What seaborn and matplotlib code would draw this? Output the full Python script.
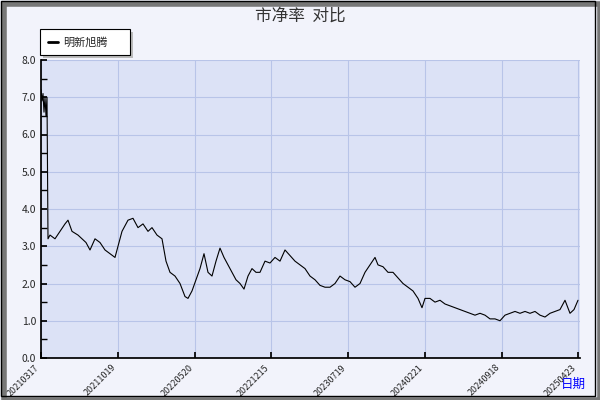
import matplotlib
matplotlib.use("Agg")
import matplotlib.pyplot as plt
import seaborn as sns
import pandas as pd
from matplotlib.patches import Rectangle

px = [41,42,43,44,45,46,47,48,50,55,60,65,68,72,78,82,86,90,95,100,105,110,115,118,122,128,133,138,143,148,152,157,162,166,170,175,180,185,188,192,196,200,204,208,212,216,220,224,228,232,236,240,244,248,252,256,260,265,270,275,280,285,290,295,300,305,310,315,320,325,330,335,340,345,350,355,360,365,370,375,378,383,388,393,398,403,408,413,418,422,425,430,435,440,445,450,455,460,465,470,475,480,485,490,495,500,505,510,515,520,525,530,535,540,545,550,555,560,565,570,574,578]
pb = [7.2,6.9,7.1,6.6,7.0,6.5,7.0,3.2,3.3,3.2,3.4,3.6,3.7,3.4,3.3,3.2,3.1,2.9,3.2,3.1,2.9,2.8,2.7,3.0,3.4,3.7,3.75,3.5,3.6,3.4,3.5,3.3,3.2,2.6,2.3,2.2,2.0,1.65,1.6,1.8,2.1,2.4,2.8,2.3,2.2,2.6,2.95,2.7,2.5,2.3,2.1,2.0,1.85,2.2,2.4,2.3,2.3,2.6,2.55,2.7,2.6,2.9,2.75,2.6,2.5,2.4,2.2,2.1,1.95,1.9,1.9,2.0,2.2,2.1,2.05,1.9,2.0,2.3,2.5,2.7,2.5,2.45,2.3,2.3,2.15,2.0,1.9,1.8,1.6,1.35,1.6,1.6,1.5,1.55,1.45,1.4,1.35,1.3,1.25,1.2,1.15,1.2,1.15,1.05,1.05,1.0,1.15,1.2,1.25,1.2,1.25,1.2,1.25,1.15,1.1,1.2,1.25,1.3,1.55,1.2,1.3,1.55]
tick_pos = [0,77,154,230,307,384,461,537]
tick_labels = ["20210317","20211019","20220520","20221215","20230719","20240221","20240918","20250423"]

df = pd.DataFrame({"x": [p - 41 for p in px], "pb": pb})

sns.set_theme(style="white")
plt.rcParams['font.family'] = ['Noto Sans CJK SC', 'DejaVu Sans']
fig = plt.figure(figsize=(6, 4), dpi=100, facecolor="#F2F3FB")
ax = fig.add_axes([41/600, 42/400, 539/600, 298/400])
ax.set_facecolor("#DCE2F6")
sns.lineplot(data=df, x="x", y="pb", ax=ax, color="black", lw=0.8, legend=False)
ax.set_xlim(0, 539)
ax.set_ylim(0, 8)
ax.set_xticks(tick_pos)
ax.set_xticklabels(tick_labels, rotation=45, ha="right", fontsize=6.5)
ax.set_yticks([i for i in range(9)])
ax.set_yticklabels([f"{i:.1f}" for i in range(9)], fontsize=7.5)
ax.set_yticks([i + 0.5 for i in range(8)], minor=True)
ax.tick_params(axis="both", which="both", direction="in", length=4, color="black", left=True, bottom=True)
ax.grid(True, color="#B8C4E8", lw=0.8)
for s in ["top", "right"]:
    ax.spines[s].set_visible(False)
for s in ["left", "bottom"]:
    ax.spines[s].set_color("black")
ax.set_xlabel(""); ax.set_ylabel("")
fig.text(0.5, 0.96, "市净率  对比", ha="center", va="center", fontsize=12, color="#333333")
fig.text(0.955, 0.03, "日期", ha="center", color="blue", fontsize=9)
# legend box
fig.patches.append(Rectangle((43/600, 1 - 58/400), 90/600, 26/400, transform=fig.transFigure, facecolor="#BBBBBB", edgecolor="none"))
fig.patches.append(Rectangle((40/600, 1 - 55/400), 90/600, 26/400, transform=fig.transFigure, facecolor="white", edgecolor="black", lw=0.8))
fig.lines.append(plt.Line2D([48/600, 58/600], [1 - 42/400]*2, transform=fig.transFigure, color="black", lw=2))
fig.text(63/600, 1 - 42/400, "明新旭腾", va="center", fontsize=8)
# border with shadow
fig.patches.append(Rectangle((4/600, 0), 596/600, 396/400, transform=fig.transFigure, facecolor="none", edgecolor="#777777", lw=4))
fig.patches.append(Rectangle((0.5/600, 4/400), 594/600, 395/400, transform=fig.transFigure, facecolor="none", edgecolor="black", lw=1))
fig.savefig("out.png", dpi=100, facecolor=fig.get_facecolor())
